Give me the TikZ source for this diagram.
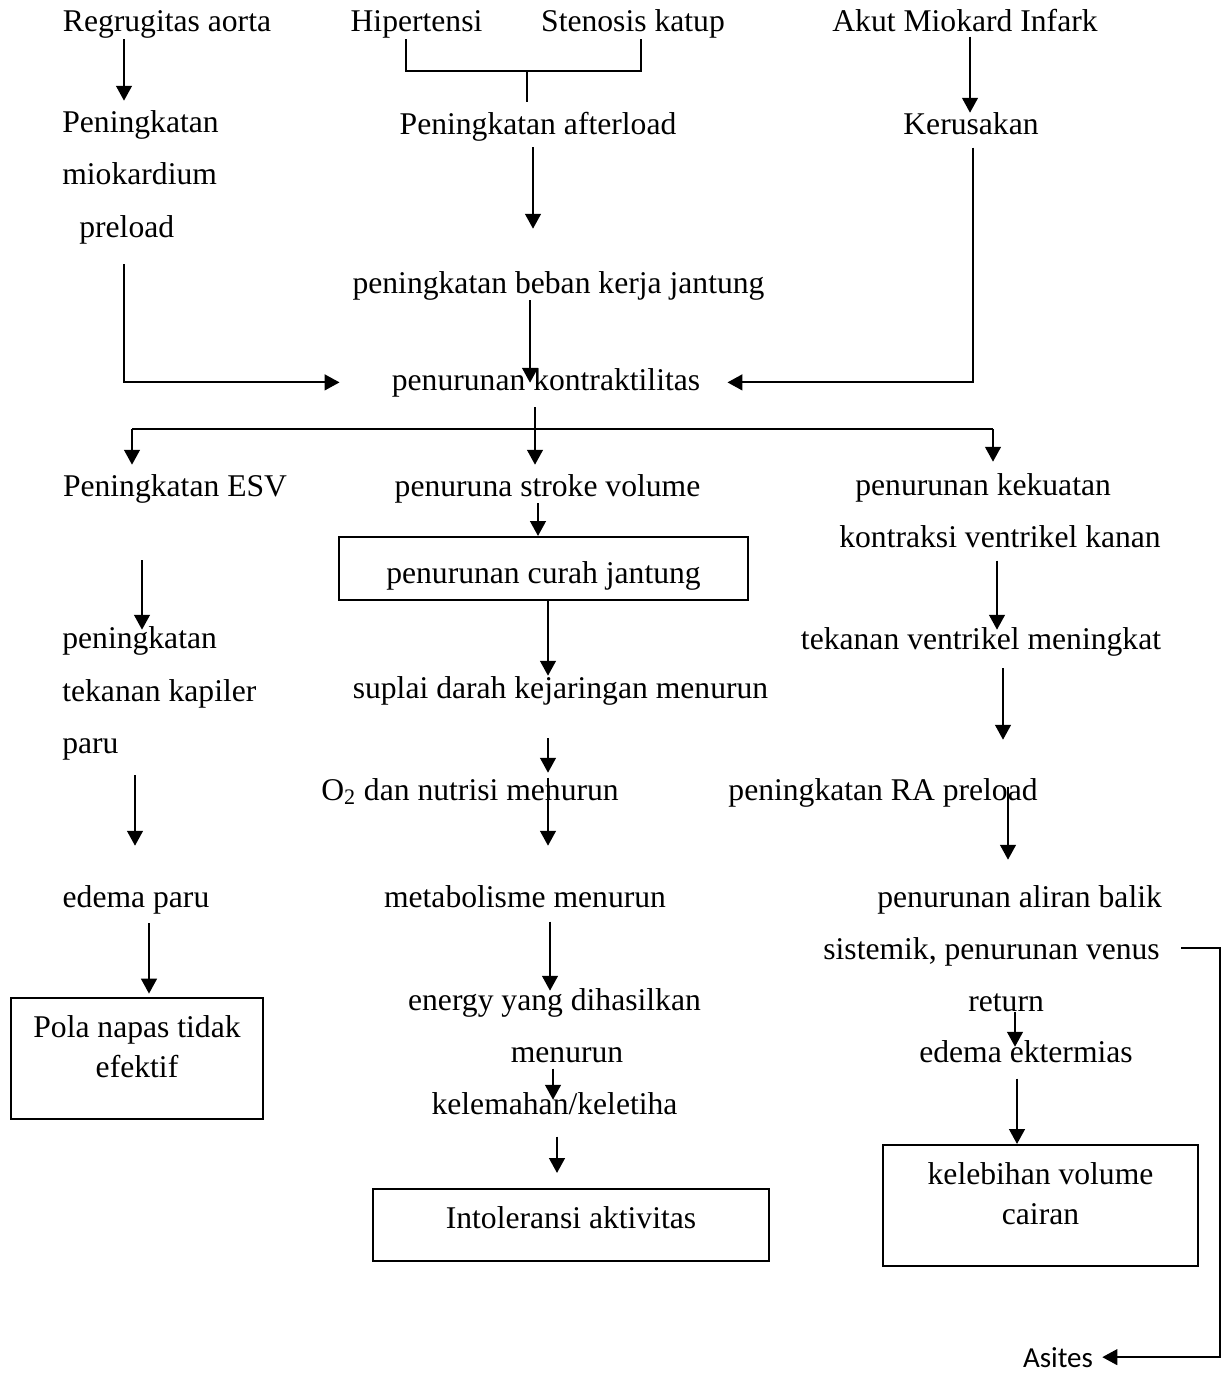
\documentclass[tikz,border=0pt]{standalone}
\usepackage{fontspec}
\setmainfont{Liberation Serif}
\newfontfamily\calibrifont{Carlito}
\usetikzlibrary{arrows.meta}
\tikzset{
  lbl/.style={anchor=base,inner sep=0pt},
  lblleft/.style={anchor=base west,inner sep=0pt,align=left},
  boxed/.style={draw,line width=1.2pt,inner sep=0pt,align=center,font=\fontsize{18}{22.8}\selectfont},
  arr/.style={-{Triangle[width=9pt,length=8.5pt]},line width=1.1pt},
  fineline/.style={line width=0.6pt}
}
\begin{document}
\begin{tikzpicture}[x=0.02cm,y=-0.02cm,font=\fontsize{18}{29.6}\selectfont]
\useasboundingbox (0,0) rectangle (1229,1375);
\node[lbl] (reg) at (167,32) {Regrugitas aorta};
\node[lbl] (hip) at (416.5,32) {Hipertensi};
\node[lbl] (sten) at (633,32) {Stenosis katup};
\node[lbl] (ami) at (965,32) {Akut Miokard Infark};
\node[lblleft] (pre) at (62,237) {Peningkatan\\miokardium\\\hspace*{0.34cm}preload};
\node[lbl] (aft) at (538,135) {Peningkatan afterload};
\node[lbl] (ker) at (971,135) {Kerusakan};
\node[lbl] (beb) at (558.5,293) {peningkatan beban kerja jantung};
\node[lbl] (kon) at (546,390) {penurunan kontraktilitas};
\node[lbl] (esv) at (175,496) {Peningkatan ESV};
\node[lbl] (sv) at (547.5,496) {penuruna stroke volume};
\node[lblleft] (kek) at (839,547) {\hspace*{0.32cm}penurunan kekuatan\\kontraksi ventrikel kanan};
\node[boxed,minimum width=8.18cm,minimum height=1.26cm,text height=0.72cm] (curah) at (543.5,568.5) {penurunan curah jantung};
\node[lblleft] (kap) at (62,753) {peningkatan\\tekanan kapiler\\paru};
\node[lbl] (tvm) at (981,649) {tekanan ventrikel meningkat};
\node[lbl] (sup) at (560.5,698) {suplai darah kejaringan menurun};
\node[lbl] (otwo) at (470,800) {O\textsubscript{2} dan nutrisi menurun};
\node[lbl] (ra) at (883,800) {peningkatan RA preload};
\node[lbl] (edp) at (136,907) {edema paru};
\node[lbl] (met) at (525,907) {metabolisme menurun};
\node[lblleft] (ali) at (823,1011) {\hspace*{1.08cm}penurunan aliran balik\\sistemik, penurunan venus\\\hspace*{2.9cm}return};
\node[lbl,align=center] (ene) at (554.5,1062) {energy yang dihasilkan\\\hspace*{0.5cm}menurun};
\node[lbl] (edk) at (1026,1062) {edema ektermias};
\node[lbl] (kel) at (554.5,1114) {kelemahan/keletiha};
\node[boxed,minimum width=5.04cm,minimum height=2.42cm,text depth=0.48cm,line width=1.6pt] (pola) at (137,1058.5) {Pola napas tidak\\efektif};
\node[boxed,minimum width=7.92cm,minimum height=1.44cm,text depth=0.28cm] (intol) at (571,1225) {Intoleransi aktivitas};
\node[boxed,minimum width=6.3cm,minimum height=2.42cm,text depth=0.48cm] (lebih) at (1040.5,1205.5) {kelebihan volume\\cairan};
\node[lbl,font=\fontsize{16.5}{20}\selectfont\calibrifont] (asites) at (1058,1367) {Asites};
\coordinate (brk) at (527,71);
\coordinate (br) at (535,429);
\draw[arr,shorten >=0.2cm] (reg.south -| 124,0) -- (pre.north -| 124,0);
\draw[arr,shorten <=0.08cm] (ami.south -| 970,0) -- (ker.north -| 970,0);
\draw[fineline] (hip.south -| 406,0) -- (brk -| 406,0) -- (brk -| 641,0) -- (sten.south -| 641,0);
\draw[fineline,shorten >=0.2cm] (brk) -- (aft.north -| brk);
\draw[arr,shorten <=0.1cm,shorten >=0.84cm] (aft.south -| 533,0) -- (beb.north -| 533,0);
\draw[arr,shorten >=-0.3cm] (beb.south -| 530,0) -- (kon.north -| 530,0);
\draw[arr,shorten <=0.4cm,shorten >=1.04cm] (pre.south -| 124,0) |- (kon.west);
\draw[arr,shorten <=0.24cm,shorten >=0.54cm] (ker.south -| 973,0) |- (kon.east);
\draw[arr,shorten <=0.2cm,shorten >=0.18cm] (kon.south -| br) -- (sv.north -| br);
\draw[fineline] (br -| 132,0) -- (br -| 993,0);
\draw[arr,shorten >=0.18cm] (br -| 132,0) -- (esv.north -| 132,0);
\draw[arr,shorten >=0.22cm] (br -| 993,0) -- (kek.north -| 993,0);
\draw[arr] (sv.south -| 538,0) -- (curah.north -| 538,0);
\draw[arr,shorten <=1.14cm,shorten >=-0.06cm] (esv.south -| 142,0) -- (kap.north -| 142,0);
\draw[arr,shorten <=0.26cm,shorten >=-0.06cm] (kek.south -| 997,0) -- (tvm.north -| 997,0);
\draw[arr] (curah.south -| 548,0) -- (sup.north -| 548,0);
\draw[arr,shorten <=0.3cm,shorten >=0.78cm] (kap.south -| 135,0) -- (edp.north -| 135,0);
\draw[arr,shorten <=0.24cm,shorten >=0.76cm] (tvm.south -| 1003,0) -- (ra.north -| 1003,0);
\draw[arr,shorten <=0.66cm,shorten >=0.1cm] (sup.south -| 548,0) -- (otwo.north -| 548,0);
\draw[arr,shorten >=0.78cm] (otwo.north -| 548,0) -- (met.north -| 548,0);
\draw[arr,shorten <=0.18cm,shorten >=0.5cm] (ra.north -| 1008,0) -- (ali.north -| 1008,0);
\draw[arr,shorten <=0.18cm,shorten >=0.06cm] (edp.south -| 149,0) -- (pola.north -| 149,0);
\draw[arr,shorten <=0.28cm,shorten >=-0.06cm] (met.south -| 550,0) -- (ene.north -| 550,0);
\draw[arr,shorten <=0.12cm,shorten >=-0.16cm] (ene.south -| 553,0) -- (kel.north -| 553,0);
\draw[arr,shorten <=0.44cm,shorten >=0.3cm] (kel.south -| 557,0) -- (intol.north -| 557,0);
\draw[arr,shorten >=-0.14cm] (ali.south -| 1015,0) -- (edk.north -| 1015,0);
\draw[arr,shorten <=0.32cm] (edk.south -| 1017,0) -- (lebih.north -| 1017,0);
\draw[arr,line width=0.8pt,shorten <=0.38cm,shorten >=0.18cm] (ali.east) -| (asites.east -| 1220,0) -- (asites.east);
\end{tikzpicture}
\end{document}
